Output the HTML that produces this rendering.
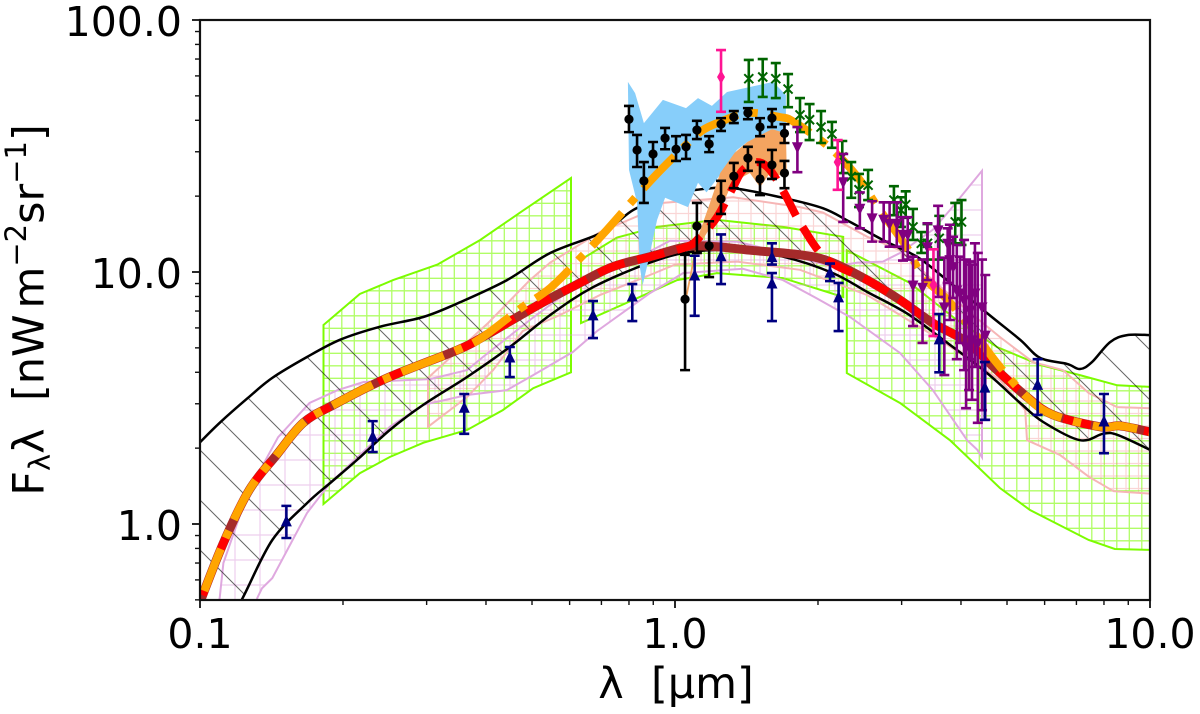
<!DOCTYPE html>
<html>
<head>
<meta charset="utf-8">
<title>EBL spectrum chart</title>
<style>
html,body{margin:0;padding:0;background:#fff;width:1200px;height:714px;overflow:hidden}
svg{display:block}
text{font-family:"DejaVu Sans","Liberation Sans",sans-serif;fill:#000}
</style>
</head>
<body>
<svg id="chart" xmlns="http://www.w3.org/2000/svg" width="1200" height="714" viewBox="0 0 1200 714">
<defs>
<clipPath id="plot-clip"><rect x="200" y="20" width="950" height="580"/></clipPath>
<pattern id="hatch-black" patternUnits="userSpaceOnUse" width="50" height="50"><path d="M-5,-5L55,55M-5,45L5,55M45,-5L55,5" stroke="#000" stroke-opacity=".6" stroke-width="1" fill="none"/></pattern>
<pattern id="hatch-lime" patternUnits="userSpaceOnUse" width="12.5" height="12.5"><path d="M4.3,0V12.5M0,3.3H12.5" stroke="#7cfc00" stroke-opacity=".6" stroke-width="1.3" fill="none"/></pattern>
<pattern id="hatch-pink" patternUnits="userSpaceOnUse" width="12.5" height="12.5"><path d="M1,0V12.5M0,1H12.5" stroke="#f08080" stroke-opacity=".32" stroke-width="1.2" fill="none"/></pattern>
<pattern id="hatch-plum" patternUnits="userSpaceOnUse" width="25" height="25"><path d="M10,0V25M0,10H25" stroke="#dda0dd" stroke-opacity=".5" stroke-width="1.2" fill="none"/></pattern>
</defs>
<rect x="0" y="0" width="1200" height="714" fill="#fff"/>
<g id="plot" clip-path="url(#plot-clip)"></g>
<rect x="200" y="20" width="950" height="580" fill="none" stroke="#111" stroke-width="2.2"/>
<g id="axes"></g>
<text x="676" y="698" font-size="43" text-anchor="middle" xml:space="preserve">λ  [μm]</text>
<text transform="translate(43.5,310) rotate(-90)" font-size="43" text-anchor="middle" xml:space="preserve">F<tspan font-size="29" dy="6.5">λ</tspan><tspan dy="-6.5">λ  [nW</tspan><tspan dx="6">m</tspan><tspan font-size="29" dy="-17.5">−2</tspan><tspan dy="17.5">sr</tspan><tspan font-size="29" dy="-17.5">−1</tspan><tspan dy="17.5">]</tspan></text>
</svg>
<script>
// Axis tick data
const xMajorTicks = [0.1, 1, 10];
const xMajorLabels = ["0.1", "1.0", "10.0"];
const yMajorTicks = [1, 10, 100];
const yMajorLabels = ["1.0", "10.0", "100.0"];
const minorMultipliers = [2, 3, 4, 5, 6, 7, 8, 9];

// Model curve
const modelLambda = [.100,.112,.127,.145,.165,.191,.248,.348,.394,.520,.631,.740,.886,1.06,1.226,1.438,1.833,2.12,2.54,2.976,3.49,4.12,4.76,5.51,6.25,7.85,8.65,10];
const modelFlux = [.490,.841,1.365,1.88,2.52,2.97,3.80,4.90,5.52,7.47,9.05,10.5,11.5,12.6,12.6,12.2,11.7,11.0,9.29,7.74,6.27,5.27,4.08,3.19,2.71,2.43,2.45,2.32];
// Red dashed curve with near-IR bump
const redLambda = [.100,.112,.127,.145,.165,.191,.248,.348,.394,.520,.631,.740,.886,1.06,1.129,1.226,1.325,1.39,1.49,1.585,1.70,1.855,2.09,2.54,2.976,3.49,4.12,4.76,5.51,6.25,7.85,8.65,10];
const redFlux = [.490,.841,1.365,1.88,2.52,2.97,3.80,4.90,5.52,7.47,9.05,10.5,11.5,12.6,13.8,16.5,21.7,25.4,27.3,25.4,20.5,15.1,11.2,9.29,7.74,6.27,5.27,4.08,3.19,2.71,2.43,2.45,2.32];
// Orange dash-dot curve
const orangeLambda = [.100,.112,.127,.145,.165,.191,.248,.348,.394,.472,.546,.636,.712,.824,.92,1.065,1.145,1.245,1.42,1.66,1.78,2.12,2.42,2.70,3.07,3.33,3.75,4.24,4.76,5.51,6.25,7.85,8.65,10];
const orangeFlux = [.490,.841,1.365,1.88,2.52,2.97,3.80,4.90,5.52,7.15,8.64,11.5,14.4,19.7,24.7,32.5,36.6,39.4,42.8,41.2,39.4,31.1,23.9,17.6,12.6,9.55,7.74,5.83,4.35,3.19,2.71,2.43,2.45,2.32];

// Black envelope band
const blackUpperLambda = [.100,.110,.126,.142,.168,.197,.239,.295,.348,.443,.546,.705,.816,.953,1.112,1.325,1.687,2.05,2.336,2.74,3.23,3.67,4.54,5.33,5.87,6.69,7.12,7.55,8.24,8.95,10];
const blackUpperFlux = [2.11,2.52,3.16,3.80,4.60,5.38,6.06,6.63,7.5,9.29,11.9,14.4,17.6,20.0,21.2,21.5,19.7,17.9,15.8,13.4,11.5,9.55,6.87,5.38,4.56,4.32,4.12,4.39,5.27,5.62,5.62];
const blackLowerLambda = [.100,.110,.123,.142,.168,.188,.214,.251,.295,.365,.449,.546,.672,.886,1.075,1.35,1.69,2.15,2.54,3.07,3.67,4.54,5.33,5.96,7.12,7.96,8.53,10];
const blackLowerFlux = [.24,.346,.509,.864,1.21,1.455,1.794,2.36,2.97,3.83,5.04,6.75,8.7,10.9,12.0,12.2,11.5,9.9,8.33,6.87,5.38,3.97,3.02,2.54,2.15,2.28,2.26,1.97];

// Lime hatched bands (upper edge then lower edge reversed)
const limeALambda = [.182,.217,.255,.316,.389,.472,.604,.604,.503,.434,.365,.295,.251,.217,.182];
const limeAFlux = [6.16,8.18,9.29,10.7,13.4,17.2,23.6,4.0,3.46,2.83,2.36,2.10,1.845,1.59,1.2];
const limeBLambda = [.634,.755,.917,1.226,1.687,2.26,2.26,1.687,1.226,1.01,.816,.634];
const limeBFlux = [11.2,13.7,15.1,16.1,15.1,13.8,7.96,9.46,9.9,9.29,7.74,6.27];
const limeCLambda = [2.30,3.12,3.92,4.76,5.87,7.12,8.53,10,10,8.43,7.43,5.59,4.83,3.79,2.976,2.30];
const limeCFlux = [12.2,9.05,6.45,5.04,4.28,3.90,3.55,3.5,.789,.796,.864,1.136,1.39,2.15,3.02,3.97];

// Pink hatched band
const pinkLambda = [.302,.404,.495,.546,.695,.843,.943,1.325,1.833,2.05,2.54,2.976,3.49,4.12,4.83,5.67,6.56,7.43,8.53,10,10,8.38,7.43,6.46,5.51,5.46,4.83,3.49,2.54,1.833,1.35,1.0,.886,.695,.573,.478,.414,.365,.302];
const pinkFlux = [3.80,6.27,9.29,10.9,14.4,16.8,18.8,19.8,18.1,17.2,13.8,12.2,9.29,7.06,5.52,4.39,4.08,3.31,2.91,2.88,1.32,1.35,1.54,1.88,2.15,2.83,3.73,5.62,8.1,10.2,11.0,10.7,9.73,8.1,6.75,5.83,4.08,3.19,2.43];

// Plum hatched band
const plumLambda = [.109,.110,.112,.126,.146,.170,.195,.221,.305,.365,.394,.495,.602,.843,.976,1.35,1.687,2.15,2.42,2.74,2.976,3.49,3.79,4.43,4.43,4.33,4.12,3.49,2.976,2.336,1.98,1.687,1.39,1.04,.886,.685,.61,.503,.443,.365,.295,.251,.188,.168,.142,.135,.132,.131];
const plumFlux = [.472,.509,.70,1.33,2.21,3.02,3.40,3.66,3.76,4.08,4.60,6.45,8.5,11.5,13.3,13.2,11.9,10.5,10.9,11.0,11.9,14.7,17.6,25.2,1.84,1.97,2.15,3.40,4.77,6.63,7.89,9.29,10.3,9.9,8.25,5.83,4.82,3.9,3.40,3.25,2.97,2.43,1.455,1.106,.61,.555,.509,.472];

// Sky-blue and sandy-brown filled regions
const blueLambda = [.796,.824,.86,.943,1.055,1.118,1.196,1.287,1.438,1.608,1.712,1.712,1.608,1.42,1.35,1.245,1.165,1.118,1.065,.953,.917,.877,.855,.843,.832,.80];
const blueFlux = [56.8,51.3,39,48.2,44.7,49,45.6,51.8,54.2,56.8,50.4,34.3,36.6,32.8,30.5,24.3,20.7,22.6,18.1,19.7,16.1,10.9,8.88,10.5,18.8,25.4];
const sandLambda = [1.712,1.60,1.42,1.335,1.245,1.185,1.112,1.05,1.06,1.112,1.226,1.32,1.438,1.51,1.585,1.72];
const sandFlux = [35.5,36.9,32.8,29.7,24.7,18.8,13.4,7.89,7.89,12.4,16.5,22.6,24.7,21.7,24.7,23.9];

// Black circle measurements
const blackHighLambda = [.80,.832,.86,.899,.953,1.005,1.055,1.112,1.18,1.25,1.33,1.424,1.51,1.60,1.70];
const blackHighFlux = [40.4,30.5,23.0,29.4,34.0,30.7,31.4,36.6,32.2,38.6,41.2,42.8,37.6,40.8,35.5];
const blackHighUpper = [45.6,35.0,27.3,32.8,37.3,34.6,35.0,39.8,34.6,40.8,43.5,44.7,40.8,44.3,38.6];
const blackHighLower = [35.9,26.1,18.8,26.1,30.7,27.6,28.1,33.7,29.9,36.3,39.0,40.4,34.6,37.6,32.5];
const blackLowLambda = [1.05,1.112,1.18,1.25,1.33,1.424,1.51,1.60,1.70];
const blackLowFlux = [7.8,15.2,12.7,19.5,24.0,28.3,23.4,26.6,24.7];
const blackLowUpper = [11.7,18.8,15.9,23.0,27.1,31.4,27.3,30.5,27.6];
const blackLowLower = [4.08,11.9,9.55,17.0,21.5,25.2,20.2,23.4,21.5];

// Navy triangle measurements
const navyLambda = [.152,.231,.360,.449,.672,.813,1.10,1.25,1.60,1.60,2.12,2.21,3.6,4.49,5.8,8.0];
const navyFlux = [1.02,2.21,2.88,4.56,6.7,7.96,9.64,11.5,11.4,8.96,9.9,7.89,5.38,3.46,3.55,2.54];
const navyUpper = [1.18,2.56,3.28,5.04,7.67,8.96,11.6,14.1,13.0,9.9,10.8,9.05,6.81,4.39,4.51,3.28];
const navyLower = [.88,1.93,2.28,3.83,5.47,6.39,6.7,8.96,10.7,6.39,9.2,5.83,4.0,2.59,2.71,1.91];

// Dark-green cross measurements
const greenLambda = [1.43,1.53,1.63,1.73,1.833,1.92,2.03,2.14,2.25,2.35,2.44,2.55,2.89,2.99,3.06,3.17,3.30,3.40,3.60,3.89,4.01];
const greenFlux = [58.5,59.4,58.5,53.2,42.0,40.2,37.6,35.3,28.6,23.9,21.2,22.1,19.3,17.6,18.5,15.1,13.0,13.0,13.6,15.8,15.8];
const greenUpper = [69.4,70,67.5,61.0,49.0,46.4,43.5,39.4,33.1,27.3,24.5,25.4,21.9,19.8,20.9,17.8,14.4,15.5,16.7,18.8,19.3];
const greenLower = [47.3,49.5,49.0,45.1,35.9,33.4,32.5,31.1,24.7,19.7,18.1,19.3,16.8,15.1,16.4,13.4,11.9,11.2,11.2,13.0,12.8];

// Purple inverted-triangle measurements
const purpleLambda = [1.81,2.26,2.45,2.60,2.75,2.83,2.93,3.02,3.09,3.17,3.32,3.40,3.58,3.69,3.75,3.79,3.85,3.92,3.98,4.06,4.1,4.16,4.18,4.22,4.28,4.34,4.43,4.5];
const purpleFlux = [31.4,22.8,17.9,16.4,16.2,15.6,15.6,14.1,14.1,8.88,8.7,12.6,14.7,7.27,13.0,11.2,10.5,8.48,8.25,7.74,5.04,6.45,7.06,5.38,8.25,5.23,7.27,5.62];
const purpleUpper = [37.6,29.4,20.7,19.1,18.9,18.9,18.9,16.5,16.5,11.5,11.2,15.6,18.3,11.4,14.9,15.4,13.8,12.8,11.5,13.4,11.2,11.0,11.0,10.7,13.0,11.9,11.2,9.73];
const purpleLower = [24.9,15.8,14.9,13.2,13.2,12.6,12.6,11.1,11.2,6.1,5.23,9.29,7.96,3.9,9.05,6.45,7.89,4.51,5.23,4.08,2.88,3.40,4.51,3.11,4.2,2.52,2.83,2.59];

// Pink diamond measurements
const diamondLambda = [1.25,2.2,3.5];
const diamondFlux = [59.4,27.3,8.88];
const diamondUpper = [76,33.4,12.3];
const diamondLower = [43.2,21.2,5.57];

const SVGNS = 'http://www.w3.org/2000/svg';
const plot = document.getElementById('plot');
const axes = document.getElementById('axes');
const PLOT = {left: 200, right: 1150, top: 20, bottom: 600};
const DOMAIN = {xMin: 0.1, xMax: 10, yTop: 100, pxPerDecade: 252};
function xAxis(l) { return PLOT.left + (PLOT.right - PLOT.left) * Math.log10(l / DOMAIN.xMin) / Math.log10(DOMAIN.xMax / DOMAIN.xMin); }
function yAxis(v) { return PLOT.top + DOMAIN.pxPerDecade * Math.log10(DOMAIN.yTop / v); }
function svgEl(tag, parent) { const e = document.createElementNS(SVGNS, tag); parent.appendChild(e); return e; }
function pathOf(ls, fs, closed) {
  let d = '';
  for (let i = 0; i < ls.length; i++) d += (i ? 'L' : 'M') + xAxis(ls[i]).toFixed(1) + ',' + yAxis(fs[i]).toFixed(1);
  return d + (closed ? 'Z' : '');
}
function smoothPathOf(ls, fs) {
  const p = ls.map((l, i) => [xAxis(l), yAxis(fs[i])]);
  let d = 'M' + p[0][0].toFixed(1) + ',' + p[0][1].toFixed(1);
  for (let i = 0; i < p.length - 1; i++) {
    const a = p[Math.max(i - 1, 0)], b = p[i], c = p[i + 1], e = p[Math.min(i + 2, p.length - 1)];
    const c1x = b[0] + (c[0] - a[0]) / 6, c1y = b[1] + (c[1] - a[1]) / 6;
    const c2x = c[0] - (e[0] - b[0]) / 6, c2y = c[1] - (e[1] - b[1]) / 6;
    d += 'C' + c1x.toFixed(1) + ',' + c1y.toFixed(1) + ' ' + c2x.toFixed(1) + ',' + c2y.toFixed(1) + ' ' + c[0].toFixed(1) + ',' + c[1].toFixed(1);
  }
  return d;
}
function band(ls, fs, fill, outline, width, name) {
  const hatch = svgEl('path', plot);
  hatch.setAttribute('d', pathOf(ls, fs, true));
  hatch.setAttribute('fill', fill);
  hatch.setAttribute('stroke', outline);
  hatch.setAttribute('stroke-width', width);
  
  
}
function curve(ls, fs, color, width, dash, offset, name) {
  const line = svgEl('path', plot);
  line.setAttribute('d', smoothPathOf(ls, fs));
  line.setAttribute('fill', 'none');
  line.setAttribute('stroke', color);
  line.setAttribute('stroke-width', width);
  if (dash) line.setAttribute('stroke-dasharray', dash);
  if (offset) line.setAttribute('stroke-dashoffset', offset);
  
  
}
function marker(kind, cx, cy, color, parent) {
  if (kind === 'circle') {
    const c = svgEl('circle', parent);
    c.setAttribute('cx', cx); c.setAttribute('cy', cy); c.setAttribute('r', 4.6); c.setAttribute('fill', color);
    return c;
  }
  const m = svgEl('path', parent);
  let d = '';
  if (kind === 'up') d = `M${cx},${cy-7}L${cx+5.5},${cy+4.5}L${cx-5.5},${cy+4.5}Z`;
  if (kind === 'down') d = `M${cx},${cy+7}L${cx+5.5},${cy-4.5}L${cx-5.5},${cy-4.5}Z`;
  if (kind === 'diamond') d = `M${cx},${cy-7}L${cx+4},${cy}L${cx},${cy+7}L${cx-4},${cy}Z`;
  if (kind === 'x') d = `M${cx-4.5},${cy-4.5}L${cx+4.5},${cy+4.5}M${cx-4.5},${cy+4.5}L${cx+4.5},${cy-4.5}`;
  m.setAttribute('d', d);
  m.setAttribute('fill', color);
  if (kind === 'x') { m.setAttribute('stroke', color); m.setAttribute('stroke-width', 2); m.setAttribute('fill', 'none'); }
  return m;
}
function errorSeries(ls, fs, ups, los, color, kind, name) {
  const group = svgEl('g', plot);
  
  
  for (let i = 0; i < ls.length; i++) {
    const x = xAxis(ls[i]), y = yAxis(fs[i]), t = yAxis(ups[i]), b = yAxis(los[i]);
    const bar = svgEl('path', group);
    bar.setAttribute('d', `M${x},${t}V${b}M${x-5},${t}H${x+5}M${x-5},${b}H${x+5}`);
    bar.setAttribute('stroke', color);
    bar.setAttribute('stroke-width', 2.6);
    bar.setAttribute('fill', 'none');
    
    
    const point = marker(kind, x, y, color, group);
    
    
  }
}

band(limeALambda, limeAFlux, 'url(#hatch-lime)', '#7cfc00', 2, 'lime-band-uv');
band(limeBLambda, limeBFlux, 'url(#hatch-lime)', '#7cfc00', 2, 'lime-band-nir');
band(limeCLambda, limeCFlux, 'url(#hatch-lime)', '#7cfc00', 2, 'lime-band-mir');
band(pinkLambda, pinkFlux, 'url(#hatch-pink)', '#f6b6b6', 2, 'pink-band');
band(plumLambda, plumFlux, 'url(#hatch-plum)', '#dfa8df', 2, 'plum-band');
band(blackUpperLambda.concat(blackLowerLambda.slice().reverse()), blackUpperFlux.concat(blackLowerFlux.slice().reverse()), 'url(#hatch-black)', 'none', 0, 'black-hatch-band');
curve(blackUpperLambda, blackUpperFlux, '#000', 2.5, null, 0, 'black-upper-curve');
curve(blackLowerLambda, blackLowerFlux, '#000', 2.5, null, 0, 'black-lower-curve');
band(blueLambda, blueFlux, '#87cefa', 'none', 0, 'blue-region');
band(sandLambda, sandFlux, '#f4a460', 'none', 0, 'sand-region');
curve(modelLambda, modelFlux, '#a52a2a', 9, null, 0, 'model-brown-curve');
curve(redLambda, redFlux, '#ff0000', 8, '28 13', -7.5, 'red-dashed-curve');
curve(orangeLambda, orangeFlux, '#ffa500', 8, '45 12 8 12', -12, 'orange-dashdot-curve');
errorSeries(blackHighLambda, blackHighFlux, blackHighUpper, blackHighLower, '#000', 'circle', 'black-high');
errorSeries(blackLowLambda, blackLowFlux, blackLowUpper, blackLowLower, '#000', 'circle', 'black-low');
errorSeries(greenLambda, greenFlux, greenUpper, greenLower, '#006400', 'x', 'green');
errorSeries(purpleLambda, purpleFlux, purpleUpper, purpleLower, '#800080', 'down', 'purple');
errorSeries(diamondLambda, diamondFlux, diamondUpper, diamondLower, '#ff1493', 'diamond', 'pink-diamond');
errorSeries(navyLambda, navyFlux, navyUpper, navyLower, '#000080', 'up', 'navy');

function tick(x1, y1, x2, y2, width, name) {
  const t = svgEl('line', axes);
  t.setAttribute('x1', x1); t.setAttribute('y1', y1); t.setAttribute('x2', x2); t.setAttribute('y2', y2);
  t.setAttribute('stroke', '#111');
  t.setAttribute('stroke-width', width);
  
  
}
function label(x, y, anchor, content, name) {
  const t = svgEl('text', axes);
  t.setAttribute('x', x); t.setAttribute('y', y);
  t.setAttribute('text-anchor', anchor);
  t.setAttribute('font-size', 41);
  t.textContent = content;
  
  
}
xMajorTicks.forEach((v, i) => {
  tick(xAxis(v), PLOT.bottom, xAxis(v), PLOT.bottom + 8, 1.8, 'x-major-tick');
  label(xAxis(v), 648, 'middle', xMajorLabels[i], 'x-tick-label');
  if (i < xMajorTicks.length - 1) minorMultipliers.forEach(m => tick(xAxis(v * m), PLOT.bottom, xAxis(v * m), PLOT.bottom + 5, 1.4, 'x-minor-tick'));
});
yMajorTicks.forEach((v, i) => {
  tick(PLOT.left - 8, yAxis(v), PLOT.left, yAxis(v), 1.8, 'y-major-tick');
  label(182, yAxis(v) + 16, 'end', yMajorLabels[i], 'y-tick-label');
  if (i < yMajorTicks.length - 1) minorMultipliers.forEach(m => tick(PLOT.left - 5, yAxis(v * m), PLOT.left, yAxis(v * m), 1.4, 'y-minor-tick'));
});
[0.5, 0.6, 0.7, 0.8, 0.9].forEach(v => tick(PLOT.left - 5, yAxis(v), PLOT.left, yAxis(v), 1.4, 'y-minor-tick'));
</script>
</body>
</html>
